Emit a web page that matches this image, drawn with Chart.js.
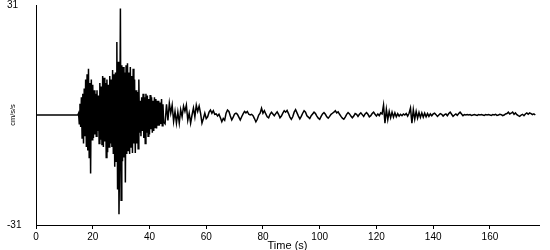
<!DOCTYPE html>
<html>
<head>
<meta charset="utf-8">
<script src="https://cdn.jsdelivr.net/npm/chart.js@4/dist/chart.umd.min.js"></script>
<style>
  body { margin: 0; background: #fff; }
</style>
</head>
<body>
<canvas id="quakeChart" width="550" height="250"></canvas>
<script>
/* ==============================
   ACCELEROGRAM - cm/s/s vs time
================================ */

// quiet record before the first arrival
const quietTimes = [0, 14.75];
const quietAccel = [0, 0];

// strong motion, one sample every 0.25 s from 15 s
const strongStart = 15;
const strongStep = 0.25;
const strongAccel = [
    0.5, -2.5, 3.2, -3.4, 5.0, -6.5, 6.0, -8.0, 7.5, -6.0,
    10.0, -9.0, 11.5, -10.0, 13.0, -12.0, 9.0, -16.5, 10.0, -7.0,
    8.5, -6.5, 7.0, -5.5, 6.0, -6.0, 7.0, -4.5, 5.5, -8.0,
    9.0, -7.0, 8.0, -8.5, 11.0, -9.0, 10.5, -7.5, 9.0, -12.0,
    10.0, -10.5, 8.5, -9.0, 11.0, -8.0, 10.0, -9.0, 12.7, -11.0,
    11.5, -14.6, 12.0, -13.0, 20.6, -21.0, 15.0, -28.0, -10.0, 30.0,
    -24.0, 14.0, -13.0, 13.5, -12.0, 12.0, -19.0, 14.0, -11.0, 14.6,
    -10.0, 12.0, -11.0, 13.5, -9.0, 11.0, -10.7, 13.0, -8.0, 10.0,
    -10.7, 7.0, -8.0, 6.5, -9.5, 10.0, -5.0, 4.0, -6.0, 5.0,
    -4.5, 6.0, -6.5, 5.0, -8.0, 6.0, -5.0, 5.5, -6.0, 4.5,
    -5.5, 5.6, -4.0, 5.0, -5.0, 4.0, -4.5, 5.0, -3.5, 4.5,
    -3.8, 4.0, -3.0, 4.0, -3.0, 3.5, -2.5, 4.5, -3.0, 3.0,
    -2.0
];

// coda, one sample every 0.5 s
const codaStep = 0.5;
const codaStart = 45.5;
const codaAccel = [
    -2.5, 3.0, -1.5, 3.3, 0.5, 2.8, -1.8, 1.0, -2.3, 0.8,
    -2.3, 1.5, -0.5, 2.5, 1.0, 2.8, -1.5, 0.5, -2.3, 0.0,
    2.0, -0.5, 2.8, 1.0, 2.5, 0.5, -2.3, -1.0, 0.5, -1.0,
    -0.5, 0.8, 1.4, 0.5, 1.2, 0.2, 0.3, -0.3, 0.2, -0.8,
    -1.9, -1.0, -1.5, 0.5, 1.4, 1.0, -0.3, -1.4, -0.6, 0.3,
    0.5, 0.2, -0.6, -1.4, -0.5, 0.3, 1.0, 0.6, 1.0, 0.2,
    0.0, 0.2, -0.2, -1.0, -1.9, -1.2, 0.0, 0.5, 1.9, 0.5
];

const lateCodaStart = 80.5;
const lateCodaAccel = [
    1.2, 0.3, -0.5, -0.8, 0.2, 0.8, 0.3, -0.2, 0.4, 0.9,
    0.2, -0.8, -0.3, 0.5, 1.2, 0.8, 1.3, 0.4, -0.6, -1.2,
    -0.5, 0.8, 1.5, 0.6, -0.3, -1.1, -0.4, 0.5, 1.2, 0.8,
    -0.2, -0.6, -1.0, -0.2, 0.3, 0.8, 0.4, -0.3, -0.9, -1.2,
    -0.4, 0.3, 0.7, 0.2, -0.5, -0.9, -0.4, 0.2, 0.5, 0.8,
    1.2, 0.6, 0.9, 0.2, -0.4, -0.9, -1.2, -0.6, 0.2, 0.7,
    0.3, -0.3, -0.8, -0.3, 0.4, 0.2, -0.4, 0.2, 0.6, 0.1,
    -0.4, 0.3, 0.7, 0.2, -0.5, -0.2, 0.4, 0.8, 0.2, -0.3
];

const tailStart = 120.5;
const tailAccel = [
    0.3, -0.2, 0.6, 0.3, 2.8, -2.3, 1.6, -1.3, 1.0, -0.8,
    0.8, -0.6, 0.6, -0.5, 0.4, -0.3, 0.2, -0.2, 0.3, 0.0,
    0.4, -0.3, 0.5, 2.0, -2.3, 1.5, -1.2, 1.0, -0.9, 0.7,
    -0.7, 0.6, -0.6, 0.5, -0.5, 0.4, -0.4, 0.3, -0.2, 0.3,
    0.5, 0.1, -0.4, 0.0, 0.4, 0.2, -0.3, 0.1, 0.3, -0.2,
    0.4, 0.8, 0.2, -0.4, 0.0, 0.3, -0.1, 0.4, 0.8, 0.3,
    -0.2, 0.1, 0.0, 0.1, 0.0, 0.1, -0.1, 0.0, 0.1, 0.0,
    -0.1, 0.1, 0.0, 0.1, 0.0, -0.1, 0.1, 0.0, 0.1, 0.0,
    -0.1, 0.1, 0.0, 0.2, -0.1, 0.0, 0.2, 0.1, -0.2, 0.0,
    0.3, 0.4, 0.8, 0.3, 0.5, 0.8, 0.2, 0.6, 0.1, -0.2,
    -0.4, 0.0, 0.2, -0.2, 0.3, 0.6, 0.2, 0.6, 0.4, 0.1,
    0.3, 0.0
];

// axis ticks
const timeTicks = [0, 20, 40, 60, 80, 100, 120, 140, 160];
const accelTicks = [-31, 31];
const timeMax = 177.3;

function toPoints(start, step, values) {
    return values.map((v, i) => ({ x: start + i * step, y: v }));
}

document.addEventListener("DOMContentLoaded", function () {

    const points = []
        .concat(quietTimes.map((t, i) => ({ x: t, y: quietAccel[i] })))
        .concat(toPoints(strongStart, strongStep, strongAccel))
        .concat(toPoints(codaStart, codaStep, codaAccel))
        .concat(toPoints(lateCodaStart, codaStep, lateCodaAccel))
        .concat(toPoints(tailStart, codaStep, tailAccel));

    const family = "'Liberation Sans', Arial, sans-serif";

    new Chart(document.getElementById("quakeChart"), {
        type: "line",
        data: {
            datasets: [{
                data: points,
                borderColor: "#000",
                borderWidth: 1.5,
                pointRadius: 0,
                tension: 0,
                fill: false
            }]
        },
        options: {
            responsive: false,
            animation: false,
            events: [],
            layout: { padding: { top: 5, right: 11, left: 7, bottom: 0 } },
            plugins: {
                legend: { display: false },
                tooltip: { enabled: false }
            },
            scales: {
                x: {
                    type: "linear",
                    min: 0,
                    max: timeMax,
                    afterBuildTicks: (scale) => {
                        scale.ticks = timeTicks.map(v => ({ value: v }));
                    },
                    afterFit: (scale) => {
                        scale.height = 25;
                        scale.paddingLeft = 0;
                        scale.paddingRight = 0;
                    },
                    grid: {
                        display: true,
                        drawOnChartArea: false,
                        drawTicks: true,
                        tickLength: 4,
                        color: "#000"
                    },
                    border: { display: true, color: "#000", width: 1 },
                    ticks: {
                        color: "#000",
                        font: { family: family, size: 10 },
                        padding: 2,
                        maxRotation: 0,
                        autoSkip: false
                    },
                    title: {
                        display: true,
                        text: "Time (s)",
                        color: "#000",
                        font: { family: family, size: 11 },
                        padding: { top: 0, bottom: -3 }
                    }
                },
                y: {
                    min: -31,
                    max: 31,
                    afterBuildTicks: (scale) => {
                        scale.ticks = accelTicks.map(v => ({ value: v }));
                    },
                    afterFit: (scale) => {
                        scale.width = 29;
                        scale.paddingTop = 0;
                        scale.paddingBottom = 0;
                    },
                    grid: { display: false },
                    border: { display: true, color: "#000", width: 1 },
                    ticks: {
                        color: "#000",
                        font: { family: family, size: 10 },
                        crossAlign: "far",
                        padding: 0
                    },
                    title: {
                        display: true,
                        text: "cm/s/s",
                        color: "#000",
                        font: { family: family, size: 7.5 },
                        padding: { top: 1, bottom: 0 }
                    }
                }
            }
        }
    });
});
</script>
</body>
</html>
